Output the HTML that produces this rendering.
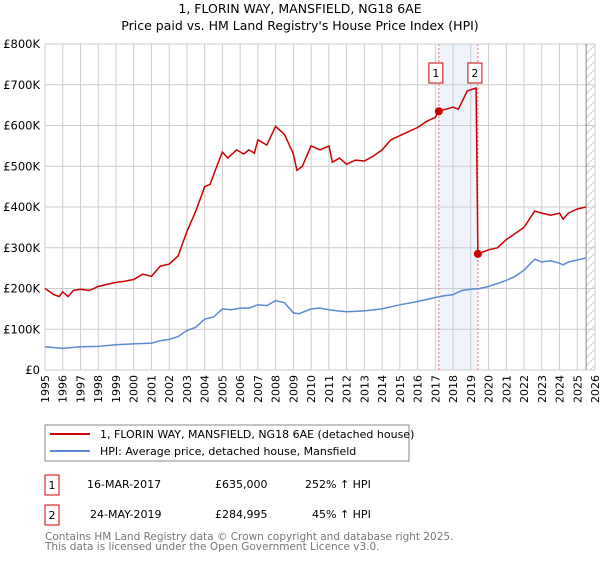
<!DOCTYPE html>
<html><head><meta charset="utf-8"><style>
body{margin:0;background:#fff;font-family:"Liberation Sans","DejaVu Sans",sans-serif;}
svg text{font-family:"DejaVu Sans","Liberation Sans",sans-serif;}
</style></head><body>
<svg id="c" width="600" height="560" xmlns="http://www.w3.org/2000/svg">
<defs><pattern id="h" width="8" height="8" patternUnits="userSpaceOnUse"><path d="M0 8 L8 0" stroke="#ccc" stroke-width="1"/></pattern></defs>
<text x="300" y="13" text-anchor="middle" font-size="12.5" fill="#000">1, FLORIN WAY, MANSFIELD, NG18 6AE</text>
<text x="300" y="30" text-anchor="middle" font-size="12.5" fill="#000">Price paid vs. HM Land Registry's House Price Index (HPI)</text>
<g id="grid"></g><g id="marks"></g><g id="axes"></g>
<rect x="45" y="425" width="364" height="36" fill="#fff" stroke="#888"/>
<line x1="50" y1="434" x2="90" y2="434" stroke="#cc0000" stroke-width="2"/>
<text x="100" y="438" font-size="11">1, FLORIN WAY, MANSFIELD, NG18 6AE (detached house)</text>
<line x1="50" y1="451" x2="90" y2="451" stroke="#5b8bd0" stroke-width="2"/>
<text x="100" y="455" font-size="11">HPI: Average price, detached house, Mansfield</text>
<rect x="45" y="475" width="14" height="20" fill="#fff" stroke="#cc0000"/>
<text x="52" y="489" text-anchor="middle" font-size="11">1</text>
<text x="87" y="488" font-size="11">16-MAR-2017</text>
<text x="215" y="488" font-size="11">£635,000</text>
<text x="305" y="488" font-size="11">252% ↑ HPI</text>
<rect x="45" y="505" width="14" height="20" fill="#fff" stroke="#cc0000"/>
<text x="52" y="519" text-anchor="middle" font-size="11">2</text>
<text x="90" y="518" font-size="11">24-MAY-2019</text>
<text x="215" y="518" font-size="11">£284,995</text>
<text x="312" y="518" font-size="11">45% ↑ HPI</text>
<text x="45" y="540" font-size="10.5" fill="#777">Contains HM Land Registry data © Crown copyright and database right 2025.</text>
<text x="45" y="550" font-size="10.5" fill="#777">This data is licensed under the Open Government Licence v3.0.</text>
</svg>
<script>
const yearTicks=[1995,1996,1997,1998,1999,2000,2001,2002,2003,2004,2005,2006,2007,2008,2009,2010,2011,2012,2013,2014,2015,2016,2017,2018,2019,2020,2021,2022,2023,2024,2025,2026];
const valueTicks=[0,100,200,300,400,500,600,700,800];
const valueTickLabels=["£0","£100K","£200K","£300K","£400K","£500K","£600K","£700K","£800K"];
const propYears=[1995,1995.5,1995.8,1996,1996.3,1996.6,1997,1997.5,1998,1998.5,1999,1999.5,2000,2000.5,2001,2001.5,2002,2002.5,2003,2003.5,2004,2004.3,2004.6,2005,2005.3,2005.8,2006.2,2006.5,2006.8,2007,2007.5,2008,2008.5,2009,2009.2,2009.5,2010,2010.5,2011,2011.2,2011.6,2012,2012.5,2013,2013.5,2014,2014.5,2015,2015.5,2016,2016.5,2017,2017.2,2017.6,2018,2018.3,2018.8,2019.3,2019.4,2019.6,2020,2020.5,2021,2021.5,2022,2022.6,2023,2023.5,2024,2024.2,2024.5,2025,2025.5];
const propValues=[200,185,180,192,180,195,198,195,205,210,215,218,222,235,230,255,260,280,340,390,450,455,490,535,520,540,530,540,532,565,552,598,578,530,490,500,550,540,550,510,520,505,515,513,525,540,565,575,585,595,610,620,635,640,645,640,685,692,285,288,295,300,320,335,350,390,385,380,385,370,385,395,400];
const hpiYears=[1995,1996,1997,1998,1999,2000,2001,2001.5,2002,2002.5,2003,2003.5,2004,2004.5,2005,2005.5,2006,2006.5,2007,2007.5,2008,2008.5,2009,2009.3,2010,2010.5,2011,2011.5,2012,2013,2014,2014.5,2015,2016,2017,2017.5,2018,2018.5,2019,2019.5,2020,2021,2021.5,2022,2022.6,2023,2023.5,2024,2024.2,2024.5,2025,2025.5];
const hpiValues=[57,53,57,58,62,64,66,72,75,82,97,105,125,130,150,148,152,152,160,158,170,165,140,138,150,152,148,145,143,145,150,155,160,168,178,182,185,195,198,200,205,220,230,245,272,265,268,262,258,265,270,275];
const saleYears=[2017.2,2019.4];
const saleValues=[635,285];
const saleLabels=["1","2"];

const X0=45,X1=595,Y0=370,Y1=44;
const xs=y=>X0+(y-1995)/(2026-1995)*(X1-X0);
const ys=v=>Y0-v/800*(Y0-Y1);
const NS="http://www.w3.org/2000/svg";
function mk(parent,tag,attrs){const e=document.createElementNS(NS,tag);for(const k in attrs)e.setAttribute(k,attrs[k]);document.getElementById(parent).appendChild(e);return e;}
// shading + hatch
let sh=mk('grid','rect',{x:xs(saleYears[0]),y:Y1,width:xs(saleYears[1])-xs(saleYears[0]),height:Y0-Y1,fill:'#eef3fc'});


let ht=mk('grid','rect',{x:xs(2025.5),y:Y1,width:X1-xs(2025.5),height:Y0-Y1,fill:'url(#h)'});


yearTicks.forEach(t=>{const l=mk('grid','line',{x1:xs(t),x2:xs(t),y1:Y1,y2:Y0,stroke:'#ccc'});


const tx=mk('axes','text',{x:0,y:0,'font-size':11,'text-anchor':'end',transform:`translate(${xs(t)+4},${Y0+5}) rotate(-90)`});tx.textContent=t;

});
valueTicks.forEach((v,i)=>{const l=mk('grid','line',{x1:X0,x2:X1,y1:ys(v),y2:ys(v),stroke:'#ccc'});


const tx=mk('axes','text',{x:X0-5,y:ys(v)+4,'font-size':11.5,'text-anchor':'end'});tx.textContent=valueTickLabels[i];

});
let vl=mk('grid','line',{x1:xs(2025.5),x2:xs(2025.5),y1:Y1,y2:Y0,stroke:'#888'});


saleYears.forEach(s=>{const l=mk('grid','line',{x1:xs(s),x2:xs(s),y1:Y1,y2:Y0,stroke:'#f07070','stroke-dasharray':'2,2'});

});
const path=(xa,va)=>xa.map((y,i)=>(i?'L':'M')+xs(y).toFixed(1)+' '+ys(va[i]).toFixed(1)).join(' ');
let hp=mk('marks','path',{d:path(hpiYears,hpiValues),fill:'none',stroke:'#5b8bd0','stroke-width':1.5});


let pp=mk('marks','path',{d:path(propYears,propValues),fill:'none',stroke:'#cc0000','stroke-width':1.5});


saleYears.forEach((s,i)=>{const c=mk('marks','circle',{cx:xs(s),cy:ys(saleValues[i]),r:4,fill:'#cc0000'});


const b=mk('marks','rect',{x:xs(s)-10,y:63,width:14,height:20,fill:'#fff',stroke:'#cc0000'});


const t=mk('marks','text',{x:xs(s)-3,y:77,'font-size':11,'text-anchor':'middle'});t.textContent=saleLabels[i];

});
</script>
</body></html>
